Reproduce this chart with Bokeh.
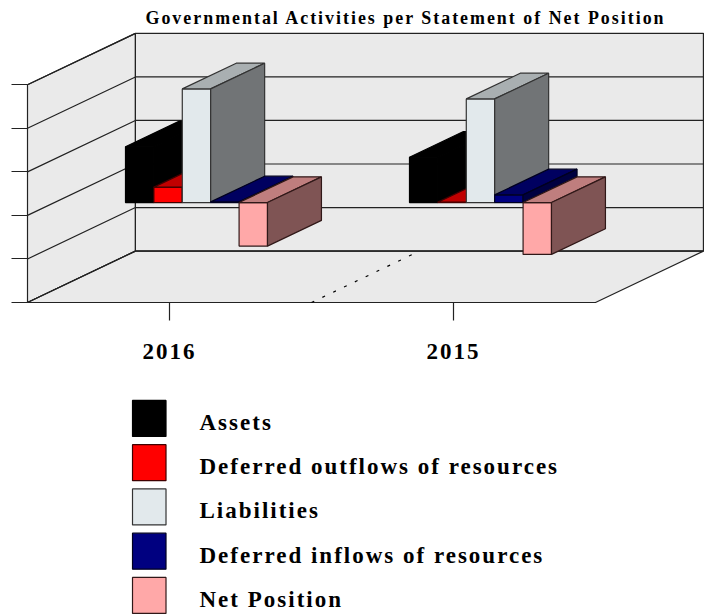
from bokeh.plotting import figure
from bokeh.models import Range1d, LinearAxis, FixedTicker
from bokeh.core.properties import value
from bokeh.embed import file_html
from bokeh.resources import INLINE

title = "Governmental Activities per Statement of Net Position"
years = ["2016", "2015"]
series = ["Assets", "Deferred outflows of resources", "Liabilities",
          "Deferred inflows of resources", "Net Position"]
assets = [1.28, 1.04]
outflows = [0.355, 0.01]
liabilities = [2.61, 2.38]
inflows = [0.015, 0.177]
net_position = [-1.0, -1.19]
front_colors = ["#000000", "#FF0000", "#E2E9EC", "#000080", "#FFA8A8"]
top_colors = ["#000000", "#C00000", "#A9AFB1", "#000060", "#BF7E7E"]
side_colors = ["#000000", "#800000", "#717476", "#000040", "#7F5454"]
edge_colors = ["#000000", "#400000", "#333333", "#000020", "#301818"]
value_ticks = [-2, -1, 0, 1, 2, 3]

DX, DY = 0.38, 1.18      # oblique offset of the full depth, in data units
WALL = "#EAEAEA"
LINE = "#222222"
LW = 1.2
FONT = "Liberation Serif"
PX_X, PX_Y = 284.0, 43.548   # pixels per data unit
def dx(px): return (px - 27) / PX_X
def dy(px): return (215 - px) / PX_Y

p = figure(width=705, height=616, output_backend="svg", toolbar_location=None,
           x_range=Range1d(-0.0951, 2.3873), y_range=Range1d(-9.21, 4.2),
           x_axis_location=None, y_axis_location=None,
           min_border_left=0, min_border_right=0, min_border_top=32, min_border_bottom=0,
           background_fill_color=None, border_fill_color="white", outline_line_color=None)
p.grid.visible = False
p.styles = {"letter-spacing": "2px"}

p.title.text = title
p.title.text_font = FONT
p.title.text_font_size = "17.9px"
p.title.text_font_style = "bold"
p.title.text_color = "black"
p.title.align = "left"
p.title.offset = 145
p.title.standoff = 10

# walls and floor
lo, hi = value_ticks[0], value_ticks[-1]
p.patch([0, DX, DX, 0], [lo, lo + DY, hi + DY, hi], fill_color=WALL, line_color=LINE, line_width=LW)
p.patch([DX, DX + 2, DX + 2, DX], [lo + DY, lo + DY, hi + DY, hi + DY], fill_color=WALL, line_color=LINE, line_width=LW)
p.patch([0, DX, DX + 2, 2], [lo, lo + DY, lo + DY, lo], fill_color=WALL, line_color=LINE, line_width=LW)
for v in value_ticks:
    p.line([0, DX, DX + 2], [v, v + DY, v + DY], line_color=LINE, line_width=LW)
p.line([1, 1 + DX], [lo, lo + DY], line_color="black", line_dash="3 9", line_width=LW)

# bars
values = [assets, outflows, liabilities, inflows, net_position]
CLUSTER = 0.5
BAR = CLUSTER / len(series)
for s, (name, vals) in enumerate(zip(series, values)):
    fx, fy, tx, ty, sx, sy = [], [], [], [], [], []
    for c, v in enumerate(vals):
        x0 = c + 0.5 - CLUSTER / 2 + s * BAR + 0.25 * DX
        x1 = x0 + BAR
        b = 0.25 * DY
        ox, oy = 0.5 * DX, 0.5 * DY
        y_low, y_high = b + min(v, 0), b + max(v, 0)
        fx.append([x0, x1, x1, x0]); fy.append([y_low, y_low, y_high, y_high])
        tx.append([x0, x1, x1 + ox, x0 + ox]); ty.append([y_high, y_high, y_high + oy, y_high + oy])
        sx.append([x1, x1 + ox, x1 + ox, x1]); sy.append([y_low, y_low + oy, y_high + oy, y_high])
    p.patches(fx, fy, fill_color=front_colors[s], line_color=edge_colors[s], line_width=LW)
    p.patches(tx, ty, fill_color=top_colors[s], line_color=edge_colors[s], line_width=LW)
    p.patches(sx, sy, fill_color=side_colors[s], line_color=edge_colors[s], line_width=LW)

# axes
left = LinearAxis(ticker=FixedTicker(ticks=value_ticks), fixed_location=0,
                  major_label_overrides={v: "" for v in value_ticks},
                  major_tick_out=16, major_tick_in=0, minor_tick_line_color=None,
                  major_label_standoff=0, axis_line_color=None, major_tick_line_color=LINE,
                  major_tick_line_width=LW)
p.add_layout(left, "left")
bottom = LinearAxis(ticker=FixedTicker(ticks=[0.5, 1.5]), fixed_location=lo,
                    major_label_overrides={0.5: "", 1.5: ""},
                    major_tick_out=18, major_tick_in=0, minor_tick_line_color=None,
                    axis_line_color=None, major_tick_line_color=LINE, major_tick_line_width=LW)
p.add_layout(bottom, "below")
# tick labels: letter spacing pushes them right of their ticks, so a second axis nudges them back
NUDGE = 0.014
labels = LinearAxis(ticker=FixedTicker(ticks=[0.5 - NUDGE, 1.5 - NUDGE]), fixed_location=lo,
                    major_label_overrides={0.5 - NUDGE: years[0], 1.5 - NUDGE: years[1]},
                    major_tick_out=18, major_tick_in=0, minor_tick_line_color=None,
                    major_label_standoff=23, axis_line_color=None, major_tick_line_color=None,
                    major_label_text_font=FONT, major_label_text_font_size="23px",
                    major_label_text_font_style="bold", major_label_text_color="black")
p.add_layout(labels, "below")

# legend
PITCH = 44.25
for i, name in enumerate(series):
    p.quad(left=dx(132), right=dx(165.5), top=dy(400 + PITCH * i), bottom=dy(436 + PITCH * i),
           fill_color=front_colors[i], line_color=edge_colors[i], line_width=LW)
p.text(x=[dx(199)] * len(series), y=[dy(422 + PITCH * i) for i in range(len(series))], text=series,
       text_font=value(FONT), text_font_size="23px", text_font_style="bold",
       text_color="black", text_baseline="alphabetic", text_align="left")

open("out.html", "w").write(file_html(p, INLINE))
